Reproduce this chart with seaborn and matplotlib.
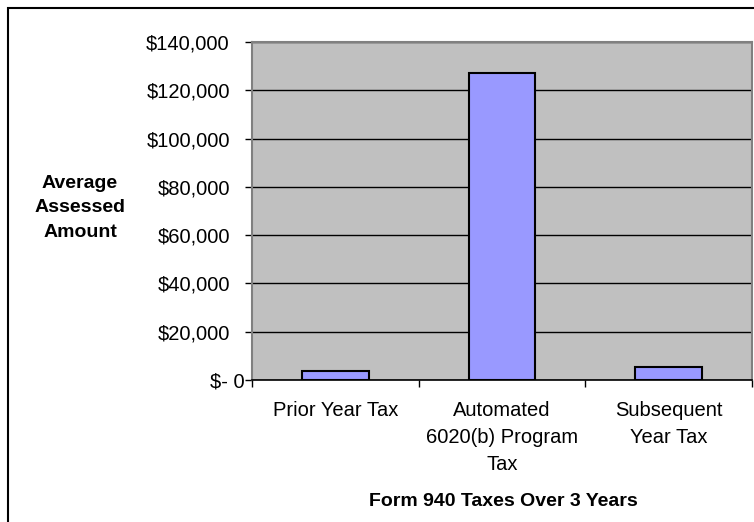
import matplotlib
matplotlib.use("Agg")
import matplotlib.pyplot as plt
import matplotlib.transforms as mtransforms
from matplotlib.patches import Rectangle
import seaborn as sns
import pandas as pd

categories = ["Prior Year Tax", "Automated\n6020(b) Program\nTax", "Subsequent\nYear Tax"]
values = [3900, 127000, 5500]
ytick_vals = [0, 20000, 40000, 60000, 80000, 100000, 120000, 140000]
ytick_labels = ["$- 0", "$20,000", "$40,000", "$60,000", "$80,000", "$100,000", "$120,000", "$140,000"]
y_title = "Average\nAssessed\nAmount"
x_title = "Form 940 Taxes Over 3 Years"

sns.set_theme(style="white")
plt.rcParams['font.family'] = ['Liberation Sans', 'DejaVu Sans']
plt.rcParams['text.color'] = 'black'
plt.rcParams['xtick.color'] = 'black'
plt.rcParams['ytick.color'] = 'black'

W, H = 754, 522
fig = plt.figure(figsize=(W / 100, H / 100), dpi=100)
ax = fig.add_axes([252 / W, 1 - 380 / H, 500 / W, 338 / H])

df = pd.DataFrame({"cat": categories, "val": values})
sns.barplot(data=df, x="cat", y="val", ax=ax, width=0.4, color="#9999FF",
            edgecolor="black", linewidth=1.5, saturation=1, zorder=3)

ax.set_facecolor("#C0C0C0")
ax.set_xlim(-0.5, 2.5)
ax.set_ylim(0, 140000)
ax.set_yticks(ytick_vals)
ax.set_yticklabels(ytick_labels)
ax.yaxis.grid(True, color="black", linewidth=1.0, zorder=1)
ax.set_axisbelow(True)
ax.set_xlabel("")
ax.set_ylabel("")

for side in ["left", "top", "right"]:
    ax.spines[side].set_color("#808080")
    ax.spines[side].set_linewidth(1.5)
ax.spines["bottom"].set_color("black")
ax.spines["bottom"].set_linewidth(1.2)

ax.tick_params(axis="y", which="major", direction="out", length=5, width=1,
               color="black", labelcolor="black", pad=11, labelsize=14.5, left=True)
ax.set_xticks([0, 1, 2])
ax.set_xticks([-0.5, 0.5, 1.5, 2.5], minor=True)
ax.tick_params(axis="x", which="major", length=0, pad=15, labelsize=14.5, labelcolor="black")
ax.tick_params(axis="x", which="minor", direction="out", length=5, width=1,
               color="black", bottom=True)
for lbl in ax.get_xticklabels():
    lbl.set_linespacing(1.55)

# shift zero label right a bit
zl = ax.get_yticklabels()[0]
zl.set_transform(zl.get_transform() + mtransforms.ScaledTranslation(15 / 100, 0, fig.dpi_scale_trans))

fig.text(80 / W, 1 - 208 / H, y_title, ha="center", va="center", fontsize=14,
         fontweight="bold", linespacing=1.55, color="black")
fig.text(503 / W, 1 - 502 / H, x_title, ha="center", va="center", fontsize=14,
         fontweight="bold", color="black")

fig.patches.append(Rectangle((8 / W, -0.1), 1.2, 1 - 8 / H + 0.1, transform=fig.transFigure,
                             fill=False, edgecolor="black", linewidth=1.5, figure=fig))

fig.savefig("out.png", dpi=100)
